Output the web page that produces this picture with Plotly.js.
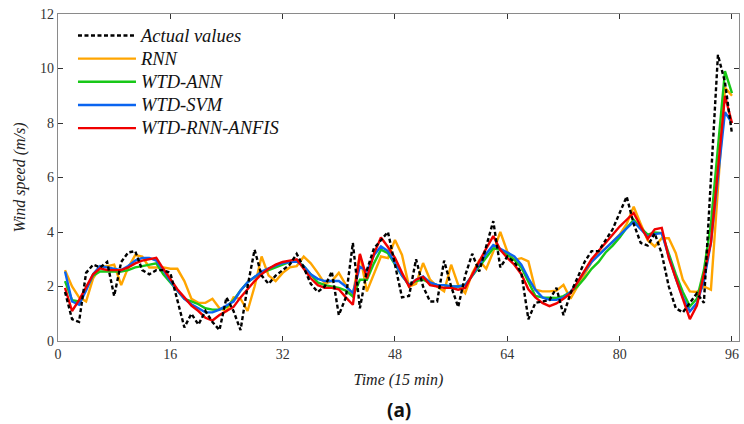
<!DOCTYPE html>
<html>
<head>
<meta charset="utf-8">
<script src="https://cdn.plot.ly/plotly-3.0.1.min.js"></script>
<style>html,body{margin:0;padding:0;background:#fff;}#chart{width:744px;height:424px;}</style>
</head>
<body>
<div id="chart"></div>
<script>
var timeIdx = [1,2,3,4,5,6,7,8,9,10,11,12,13,14,15,16,17,18,19,20,21,22,23,24,25,26,27,28,29,30,31,32,
33,34,35,36,37,38,39,40,41,42,43,44,45,46,47,48,49,50,51,52,53,54,55,56,57,58,59,60,61,62,63,64,
65,66,67,68,69,70,71,72,73,74,75,76,77,78,79,80,81,82,83,84,85,86,87,88,89,90,91,92,93,94,95,96];

var actualValues = [1.8,0.8,0.7,2.5,2.8,2.7,2.9,1.65,2.9,3.25,3.3,2.6,2.45,2.6,2.6,2.5,
1.5,0.5,1.0,0.6,1.1,0.7,0.4,1.6,1.1,0.4,2.0,3.35,2.4,2.1,2.4,2.6,
2.8,3.2,2.7,2.1,1.8,2.0,2.55,0.95,1.6,3.6,1.2,2.6,3.4,3.7,4.0,2.8,
1.6,1.65,3.0,2.0,1.45,1.45,2.95,2.0,1.25,2.4,3.2,2.55,3.5,4.4,2.7,3.1,
2.9,2.5,0.8,1.4,1.45,1.5,1.95,0.95,1.75,2.3,2.9,3.3,3.3,3.7,4.1,4.7,
5.3,4.3,3.6,3.5,3.95,3.2,2.0,1.2,1.05,1.4,1.75,1.4,6.0,10.5,9.5,7.6];

var rnnValues = [2.6,2.0,1.6,1.45,2.3,2.7,2.75,2.8,2.05,2.7,3.15,3.1,2.7,2.7,2.7,2.65,
2.65,2.2,1.55,1.4,1.4,1.55,1.2,1.1,1.6,1.55,1.1,2.0,3.1,2.4,2.2,2.5,
2.7,2.75,3.1,2.85,2.5,2.1,2.2,2.5,2.06,1.7,3.16,1.82,2.45,3.1,3.04,3.71,
3.16,2.0,2.1,2.86,2.25,2.0,1.82,2.8,2.06,1.76,2.49,2.95,2.65,3.28,4.0,3.28,
2.98,3.04,2.92,1.88,1.82,1.82,1.85,2.06,1.55,2.0,2.43,2.9,3.2,3.4,3.65,3.9,
4.3,4.93,4.3,3.7,3.47,3.77,3.77,3.22,2.25,1.82,1.8,2.0,1.88,5.5,9.3,9.0];

var wtdAnnValues = [2.2,1.5,1.45,1.9,2.4,2.55,2.55,2.55,2.55,2.6,2.7,2.75,2.8,2.85,2.45,2.15,
1.85,1.55,1.45,1.35,1.2,1.15,1.15,1.25,1.5,1.85,2.15,2.35,2.5,2.6,2.7,2.8,
2.9,2.95,2.75,2.45,2.15,2.05,2.0,1.95,1.85,1.63,2.25,2.25,2.85,3.35,3.22,2.8,
2.4,2.06,2.2,2.25,2.12,2.06,2.05,2.0,2.0,2.06,2.4,2.73,3.05,3.4,3.35,3.15,
2.98,2.7,2.2,1.65,1.6,1.58,1.58,1.65,1.8,2.0,2.3,2.65,2.9,3.25,3.5,3.8,
4.15,4.45,4.15,3.9,3.98,3.96,3.2,2.45,1.8,1.27,1.55,2.6,4.3,7.0,9.9,9.1];

var wtdSvmValues = [2.55,1.45,1.33,1.85,2.45,2.75,2.7,2.65,2.6,2.75,2.95,3.05,3.05,2.95,2.6,2.2,
1.85,1.55,1.35,1.2,1.05,1.05,1.15,1.3,1.45,1.85,2.15,2.35,2.55,2.67,2.78,2.86,
2.9,2.92,2.75,2.45,2.28,2.2,2.2,2.2,2.0,1.76,2.73,2.55,3.15,3.47,3.3,2.86,
2.4,2.06,2.25,2.37,2.15,2.06,2.05,2.0,2.0,2.05,2.4,2.8,3.2,3.52,3.4,3.25,
3.1,2.8,2.3,1.88,1.6,1.51,1.51,1.6,1.8,2.15,2.55,2.9,3.15,3.4,3.65,3.9,
4.15,4.38,4.1,3.83,3.92,3.96,3.1,2.3,1.6,1.09,1.39,2.2,3.6,6.0,8.4,8.0];

var wtdRnnAnfisValues = [1.95,1.1,1.5,1.95,2.45,2.67,2.6,2.6,2.6,2.7,2.85,2.95,3.0,3.05,2.65,2.25,
1.9,1.6,1.3,1.1,0.85,0.75,0.95,1.1,1.25,1.6,1.9,2.2,2.45,2.65,2.8,2.9,
2.95,3.0,2.65,2.3,2.05,1.95,1.95,1.9,1.6,1.33,3.2,2.3,3.2,3.8,3.45,3.05,
2.5,2.0,2.25,2.35,2.05,2.0,1.95,1.95,1.88,1.95,2.45,2.95,3.4,3.85,3.35,3.05,
2.8,2.45,1.9,1.6,1.4,1.28,1.38,1.55,1.75,2.15,2.6,3.0,3.3,3.6,3.9,4.2,
4.45,4.7,4.2,3.75,4.1,4.15,3.05,2.3,1.6,0.8,1.3,2.5,3.6,6.3,9.0,8.0];

var seriesNames = ['Actual values','RNN','WTD-ANN','WTD-SVM','WTD-RNN-ANFIS'];
var xTickVals = [0,16,32,48,64,80,96];
var yTickVals = [0,2,4,6,8,10,12];

var serif = '"Liberation Serif", "Times New Roman", serif';

function tr(name, y, color, rank, dash) {
  return {
    x: timeIdx, y: y, type: 'scatter', mode: 'lines',
    name: '<span style="font-size:18.5px"><i>' + name + '</i></span>',
    legendrank: rank,
    line: {color: color, width: 2.4, dash: dash || 'solid'},
    hoverinfo: 'skip'
  };
}

var data = [
  tr(seriesNames[1], rnnValues, '#FFA500', 2),
  tr(seriesNames[2], wtdAnnValues, '#18C818', 3),
  tr(seriesNames[3], wtdSvmValues, '#0A64F0', 4),
  tr(seriesNames[4], wtdRnnAnfisValues, '#F00000', 5),
  tr(seriesNames[0], actualValues, '#000000', 1, '4px,2.5px')
];

var axisCommon = {
  showgrid: false, zeroline: false,
  showline: true, linecolor: '#8a8a8a', linewidth: 1.2,
  mirror: 'ticks', ticks: 'inside', ticklen: 5, tickwidth: 1, tickcolor: '#333',
  tickfont: {family: serif, size: 14, color: '#333'}
};

var layout = {
  width: 744, height: 424,
  margin: {l: 58, r: 5, t: 14, b: 83},
  paper_bgcolor: '#fff', plot_bgcolor: '#fff',
  showlegend: true,
  legend: {
    x: 0.022, y: 0.985, xanchor: 'left', yanchor: 'top',
    bgcolor: 'rgba(0,0,0,0)', borderwidth: 0,
    font: {family: serif, size: 15.5, color: '#111'},
    itemwidth: 58, tracegroupgap: 0
  },
  xaxis: Object.assign({}, axisCommon, {
    range: [0, 97], tickvals: xTickVals, ticktext: xTickVals.map(String),
    title: {text: '<i>Time (15 min)</i>', font: {family: serif, size: 16, color: '#222'}, standoff: 12}
  }),
  yaxis: Object.assign({}, axisCommon, {
    range: [0, 12], tickvals: yTickVals, ticktext: yTickVals.map(String),
    title: {text: '<i>Wind speed (m/s)</i>', font: {family: serif, size: 16, color: '#222'}, standoff: 10}
  }),
  annotations: [{
    xref: 'paper', yref: 'paper', x: 0.5, y: -0.211, xanchor: 'center', yanchor: 'middle',
    text: '<b>(a)</b>', showarrow: false,
    font: {family: '"Noto Sans", "DejaVu Sans", sans-serif', size: 19, color: '#111'}
  }]
};

Plotly.newPlot('chart', data, layout, {displayModeBar: false, staticPlot: true});
</script>
</body>
</html>
